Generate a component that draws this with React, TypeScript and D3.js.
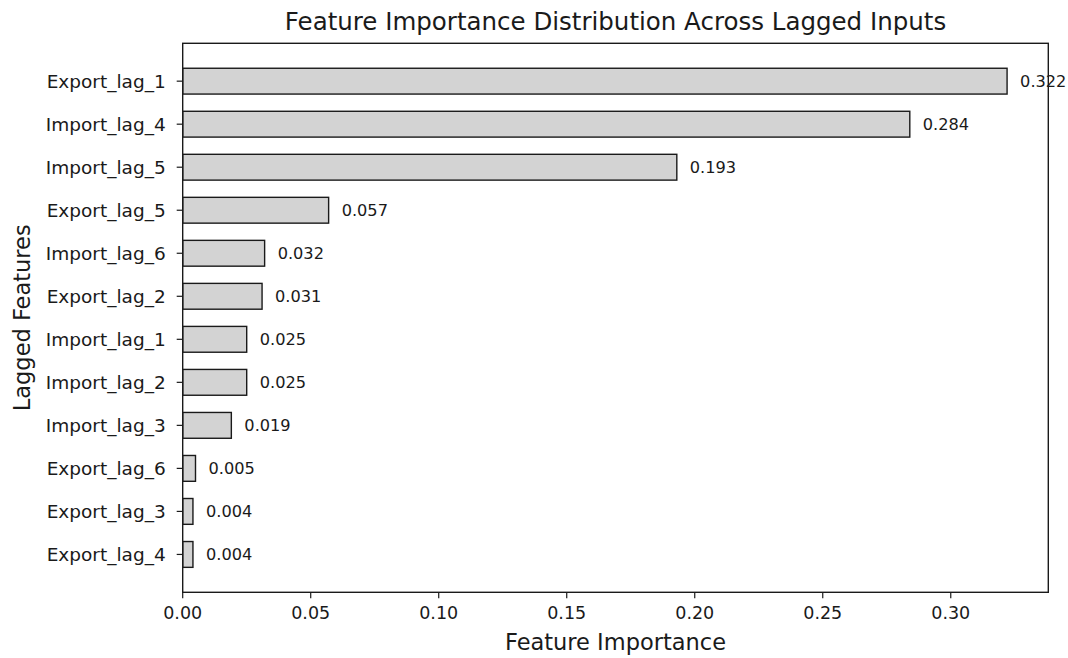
import React from "react";
import * as d3 from "d3";

const features = [
  "Export_lag_1", "Import_lag_4", "Import_lag_5", "Export_lag_5", "Import_lag_6", "Export_lag_2",
  "Import_lag_1", "Import_lag_2", "Import_lag_3", "Export_lag_6", "Export_lag_3", "Export_lag_4",
];
const importance = [0.322, 0.284, 0.193, 0.057, 0.032, 0.031, 0.025, 0.025, 0.019, 0.005, 0.004, 0.004];
const xTicks = [0, 0.05, 0.1, 0.15, 0.2, 0.25, 0.3];

const W = 1068, H = 658;
const left = 182.7, right = 1048.3, top = 43.3, bottom = 592.3;
const font = "'DejaVu Sans', sans-serif";

export default function App() {
  const maxV = d3.max(importance) as number;
  const x = d3.scaleLinear().domain([0, maxV * 1.05]).range([left, right]);
  const n = features.length;
  const y = d3.scaleLinear().domain([-0.3 - 0.58, n - 1 + 0.3 + 0.58]).range([top, bottom]);
  const bh = y(0.6) - y(0);
  return (
    <svg width={W} height={H} style={{ position: "absolute", left: 0, top: 0, background: "#fff" }} fontFamily={font}>
      <text x={(left + right) / 2} y={30} textAnchor="middle" fontSize={24.5} fill="#1a1a1a">
        Feature Importance Distribution Across Lagged Inputs
      </text>
      {features.map((f, i) => (
        <g key={f}>
          <rect x={x(0)} y={y(i) - bh / 2} width={x(importance[i]) - x(0)} height={bh}
            fill="#d3d3d3" stroke="#1a1a1a" strokeWidth={1.4} />
          <text x={x(importance[i]) + 13} y={y(i)} dy="0.35em" fontSize={16.2} fill="#1a1a1a">
            {importance[i].toFixed(3)}
          </text>
          <line x1={left - 6} x2={left} y1={y(i)} y2={y(i)} stroke="#1a1a1a" strokeWidth={1.2} />
          <text x={left - 17} y={y(i)} dy="0.36em" textAnchor="end" fontSize={18.5} fill="#1a1a1a">{f}</text>
        </g>
      ))}
      {xTicks.map((t) => (
        <g key={t}>
          <line x1={x(t)} x2={x(t)} y1={bottom} y2={bottom + 6} stroke="#1a1a1a" strokeWidth={1.2} />
          <text x={x(t)} y={bottom + 27} textAnchor="middle" fontSize={17.5} fill="#1a1a1a">{t.toFixed(2)}</text>
        </g>
      ))}
      <rect x={left} y={top} width={right - left} height={bottom - top} fill="none" stroke="#1a1a1a" strokeWidth={1.4} />
      <text x={(left + right) / 2} y={650} textAnchor="middle" fontSize={22.5} fill="#1a1a1a">Feature Importance</text>
      <text transform={`translate(30, ${(top + bottom) / 2}) rotate(-90)`} textAnchor="middle" fontSize={22.5} fill="#1a1a1a">
        Lagged Features
      </text>
    </svg>
  );
}
